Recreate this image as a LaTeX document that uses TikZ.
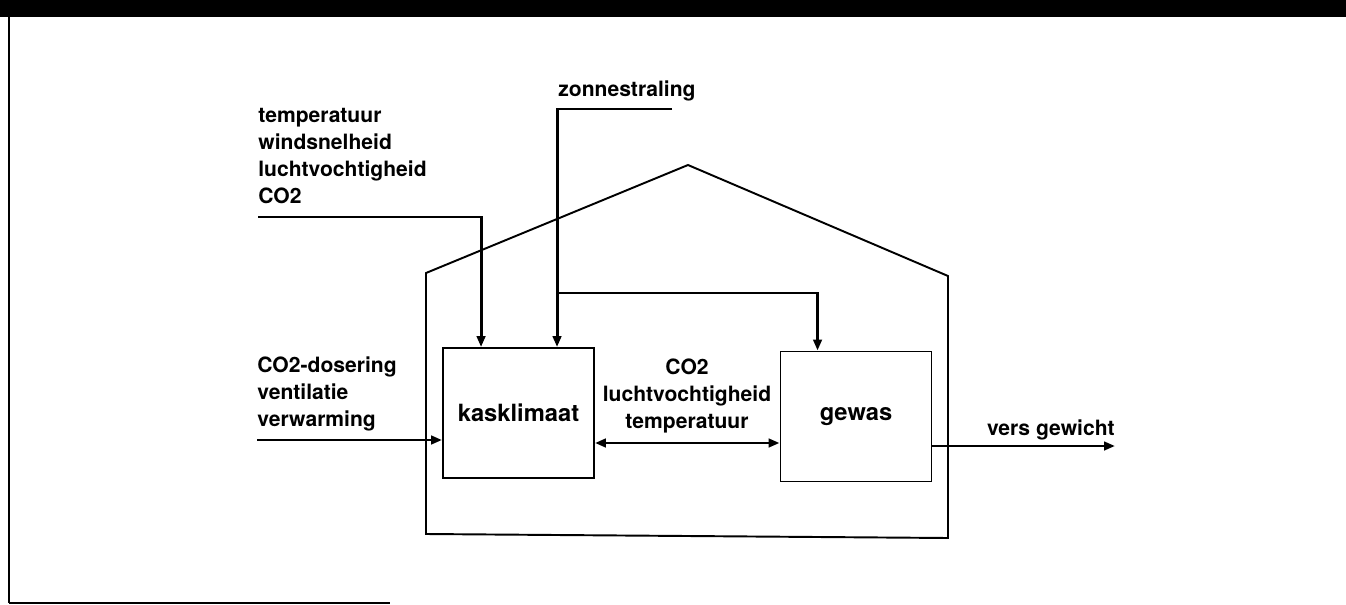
\documentclass[tikz,border=0pt]{standalone}
\usepackage{fontspec}
\setmainfont{TeX Gyre Heros}
\usetikzlibrary{arrows.meta,positioning}
\tikzset{
  lijn/.style={line width=1.7pt},
  pijl/.style={lijn, -{Triangle[length=0.22cm,width=0.17cm]}},
  dubbel/.style={lijn, {Triangle[length=0.22cm,width=0.17cm]}-{Triangle[length=0.22cm,width=0.17cm]}},
  wand/.style={line width=1.1pt},
  tekst/.style={font=\fontsize{12}{15.3}\selectfont\bfseries, inner sep=0pt, align=left},
  blok/.style={draw, line width=1.1pt, minimum width=3.02cm, minimum height=2.6cm, inner sep=0pt, font=\fontsize{13.5}{16}\selectfont\bfseries}
}
\begin{document}
\begin{tikzpicture}[x=0.02cm, y=-0.02cm]
    \useasboundingbox (0,0) rectangle (1346,605);
    % Frame
    \fill (0,0) rectangle (1346,17);
    \draw[line width=1.7pt] (9,17) -- (9,603);
    \draw[line width=1.2pt] (9,603) -- (390,603);

    % House
    \draw[wand] (426,534) -- (426,273) -- (688,165) -- (948,276) -- (948,538) -- cycle;

    % Blocks
    \node[blok] (kas) at (518.5,413) {kasklimaat};
    \node[blok] (gewas) at (856,416.5) {gewas};

    % Labels
    \node[tekst, anchor=west] (buitenklimaat) at (258,156) {temperatuur\\windsnelheid\\luchtvochtigheid\\CO2};
    \node[tekst, anchor=base west] (zon) at (558,96) {zonnestraling};
    \node[tekst, anchor=west] (regeling) at (257,394) {CO2-dosering\\ventilatie\\verwarming};
    \node[tekst, align=center] (uitwisseling) at (687,396) {CO2\\luchtvochtigheid\\temperatuur};
    \node[tekst, anchor=base east] (oogst) at (1115,435) {vers gewicht};

    % Line ends
    \coordinate (buiten) at (258,217);
    \coordinate (zonlijn) at (672,109);
    \coordinate (tak) at (558,293);
    \coordinate (stuur) at (257,440);
    \coordinate (uit) at (1115,446);

    % Flows
    \draw[pijl] (buiten) -| ([xshift=0.78cm]kas.north west);
    \draw[pijl] (zonlijn) -| ([xshift=2.3cm]kas.north west);
    \draw[pijl] (tak) -| ([xshift=0.76cm]gewas.north west);
    \draw[pijl] (stuur) -- (kas.west |- stuur);
    \draw[dubbel] ([yshift=-0.6cm]kas.east) -- ([yshift=-0.6cm]kas.east -| gewas.west);
    \draw[pijl] (gewas.east |- uit) -- (uit);
\end{tikzpicture}
\end{document}
